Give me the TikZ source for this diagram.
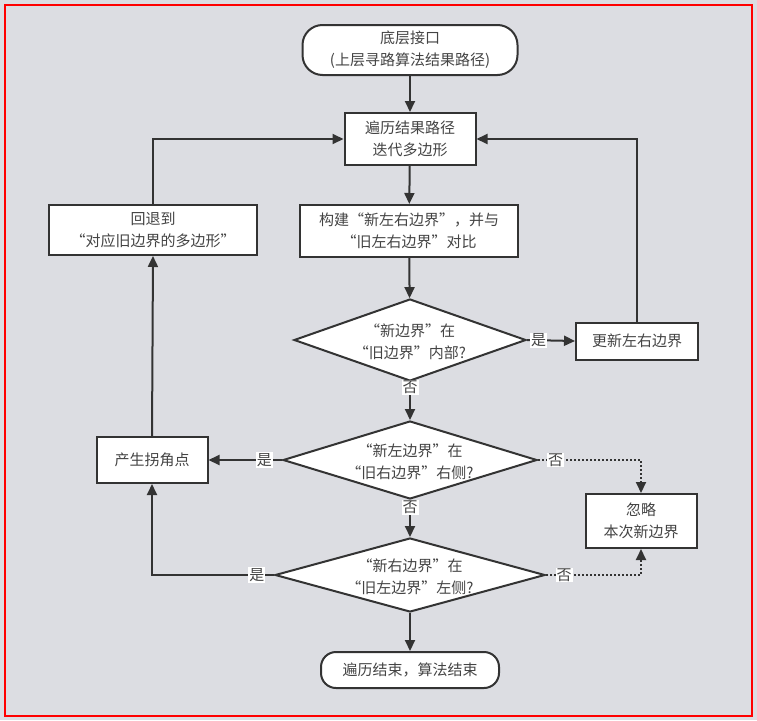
\documentclass[tikz,border=0pt]{standalone}
\usepackage{fontspec}
\setmainfont{Noto Sans CJK SC}
\usetikzlibrary{shapes.geometric,arrows.meta}
\definecolor{bg}{HTML}{DCDDE2}
\definecolor{ink}{HTML}{333333}
\definecolor{txt}{HTML}{444444}
\newcommand{\diatext}[2]{\makebox[0pt]{\smash{\raisebox{-7pt}{\begin{tabular}{@{}c@{}}#1\\#2\end{tabular}}}}}
\tikzset{
  base/.style={draw=ink, line width=2pt, fill=white, text=txt, align=center,
    font=\fontsize{15}{22}\selectfont, inner sep=0pt},
  term/.style={base, rounded corners=#1},
  box/.style={base},
  dia/.style={base, diamond},
  link/.style={draw=ink, line width=2pt, -{Triangle[length=11pt,width=10pt]}},
  dotlink/.style={link, dotted},
  lbl/.style={fill=white, text=txt, inner sep=1pt, font=\fontsize{15}{18}\selectfont}
}
\begin{document}
\begin{tikzpicture}[x=1pt,y=-1pt]
  % canvas and frame
  \fill[bg] (0,0) rectangle (757,720);
  \useasboundingbox (0,0) rectangle (757,720);
  \draw[red, line width=2pt] (5,5) rectangle (752,716);

  % nodes
  \node[term=20pt, minimum width=215pt, minimum height=50pt] (start) at (410,50)
    {底层接口\\(上层寻路算法结果路径)};
  \node[box, minimum width=131pt, minimum height=52pt] (iter) at (410,139)
    {遍历结果路径\\迭代多边形};
  \node[box, minimum width=218pt, minimum height=52pt] (build) at (409,231)
    {构建“新左右边界”，并与\\“旧左右边界”对比};
  \node[box, minimum width=208pt, minimum height=50pt] (back) at (153,230)
    {回退到\\“对应旧边界的多边形”};
  \node[dia, minimum width=232pt, minimum height=82pt] (d1) at (410,340)
    {\diatext{“新边界”在}{“旧边界”内部?}};
  \node[box, minimum width=122pt, minimum height=37pt] (upd) at (637,341)
    {更新左右边界};
  \node[dia, minimum width=254pt, minimum height=78pt] (d2) at (410,460)
    {\diatext{“新左边界”在}{“旧右边界”右侧?}};
  \node[box, minimum width=111pt, minimum height=46pt] (corner) at (152,460)
    {产生拐角点};
  \node[box, minimum width=111pt, minimum height=54pt] (ign) at (641,521)
    {忽略\\本次新边界};
  \node[dia, minimum width=270pt, minimum height=74pt] (d3) at (410,575)
    {\diatext{“新右边界”在}{“旧左边界”左侧?}};
  \node[term=15pt, minimum width=178pt, minimum height=36pt] (stop) at (410,670)
    {遍历结束，算法结束};

  % connectors
  \draw[link] (start) -- (iter);
  \draw[link] (iter) -- (build);
  \draw[link] (build) -- (d1);
  \draw[link] (d1.east) -- node[lbl, pos=0.24] {是} (upd.west);
  \draw[link] (upd.north) |- (iter.east);
  \draw[link] (d1.south) -- node[lbl, pos=0.15] {否} (d2.north);
  \draw[link] (d2.west) -- node[lbl, pos=0.24] {是} (corner.east);
  \draw[dotlink] (d2.east) -- node[lbl, pos=0.17] {否} (d2.east -| ign.north) -- (ign.north);
  \draw[link] (d2.south) -- node[lbl, pos=0.2] {否} (d3.north);
  \draw[link] (d3.west) -- node[lbl, pos=0.14] {是} (d3.west -| corner.south) -- (corner.south);
  \draw[dotlink] (d3.east) -- node[lbl, pos=0.19] {否} (d3.east -| ign.south) -- (ign.south);
  \draw[link] (d3.south) -- (stop.north);
  \draw[link] (corner.north) -- (back.south);
  \draw[link] (back.north) |- (iter.west);
\end{tikzpicture}
\end{document}
